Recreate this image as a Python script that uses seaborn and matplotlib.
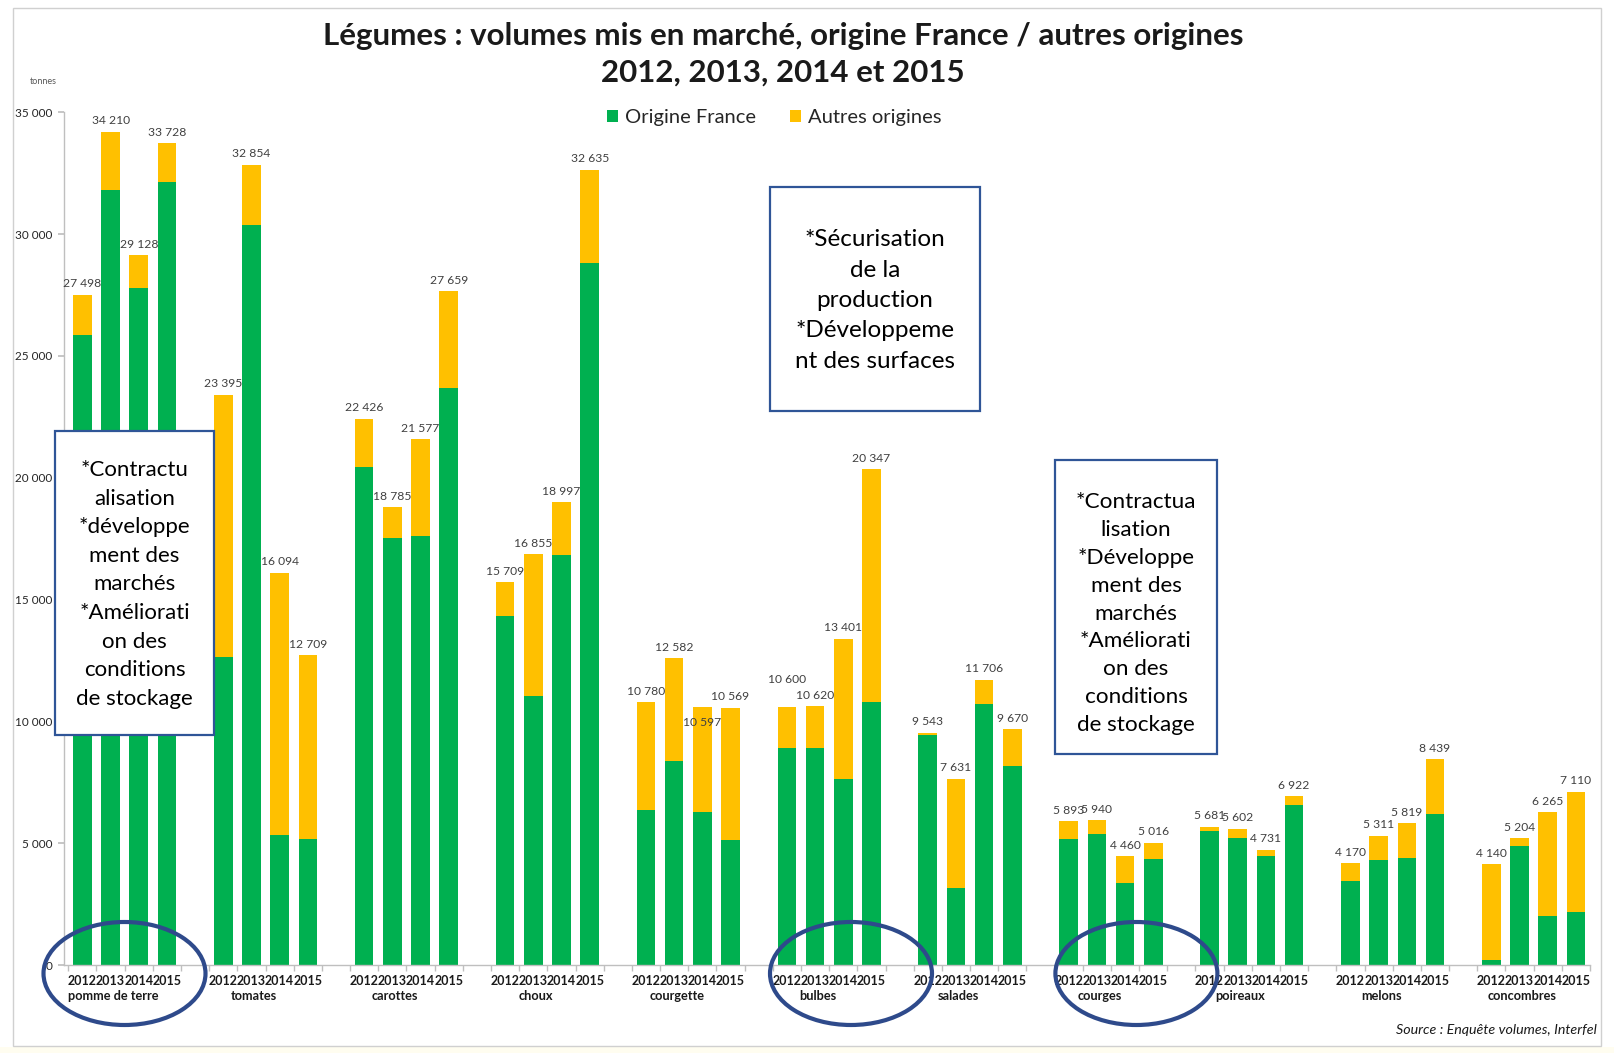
import numpy as np
import pandas as pd
import matplotlib
matplotlib.use("Agg")
import matplotlib.pyplot as plt
import seaborn as sns
from matplotlib.patches import Patch, Rectangle, Ellipse
from matplotlib.ticker import FuncFormatter

# ---------------- data ----------------
categories = ["pomme de terre", "tomates", "carottes", "choux", "courgette", "bulbes",
              "salades", "courges", "poireaux", "melons", "concombres"]
years = ["2012", "2013", "2014", "2015"]

total_2012 = [27498, 23395, 22426, 15709, 10780, 10600, 9543, 5893, 5681, 4170, 4140]
total_2013 = [34210, 32854, 18785, 16855, 12582, 10620, 7631, 5940, 5602, 5311, 5204]
total_2014 = [29128, 16094, 21577, 18997, 10597, 13401, 11706, 4460, 4731, 5819, 6265]
total_2015 = [33728, 12709, 27659, 32635, 10569, 20347, 9670, 5016, 6922, 8439, 7110]

france_2012 = [25840, 12640, 20430, 14310, 6350, 8900, 9450, 5180, 5510, 3450, 200]
france_2013 = [31810, 30370, 17510, 11030, 8390, 8900, 3150, 5380, 5220, 4310, 4890]
france_2014 = [27780, 5340, 17610, 16820, 6270, 7640, 10700, 3370, 4490, 4410, 2030]
france_2015 = [32140, 5180, 23680, 28830, 5140, 10790, 8180, 4340, 6560, 6180, 2180]

y_ticks = [0, 5000, 10000, 15000, 20000, 25000, 30000, 35000]

title_lines = ["Légumes : volumes mis en marché, origine France / autres origines",
               "2012, 2013, 2014 et 2015"]
series_names = ["Origine France", "Autres origines"]
box1_lines = ["*Contractu", "alisation", "*développe", "ment des", "marchés",
              "*Améliorati", "on des", "conditions", "de stockage"]
box2_lines = ["*Sécurisation", "de la", "production", "*Développeme", "nt des surfaces"]
box3_lines = ["*Contractua", "lisation", "*Développe", "ment des", "marchés",
              "*Améliorati", "on des", "conditions", "de stockage"]
source_text = "Source : Enquête volumes, Interfel"

# ---------------- table ----------------
totals = [total_2012, total_2013, total_2014, total_2015]
frances = [france_2012, france_2013, france_2014, france_2015]
rows = []
for g, cat in enumerate(categories):
    for j, yr in enumerate(years):
        rows.append({"cat": cat, "year": yr, "pos": 5 * g + j,
                     "total": totals[j][g], "france": frances[j][g]})
df = pd.DataFrame(rows)

GREEN = "#00B050"
YELLOW = "#FFC000"
BLUE_BOX = "#2F5597"
BLUE_ELL = "#2E4A8B"

sns.set_theme(style="white")
plt.rcParams["font.family"] = ["Lato", "DejaVu Sans"]

W, H = 1614, 1053
fig = plt.figure(figsize=(W / 100, H / 100), dpi=100)
fig.patch.set_facecolor("white")

ax = fig.add_axes([63.8 / W, (H - 965) / H, (1590 - 63.8) / W, (965 - 112.3) / H])
sns.barplot(data=df, x="pos", y="total", native_scale=True, color=YELLOW,
            saturation=1, width=0.66, errorbar=None, linewidth=0, ax=ax)
sns.barplot(data=df, x="pos", y="france", native_scale=True, color=GREEN,
            saturation=1, width=0.66, errorbar=None, linewidth=0, ax=ax)

ax.set_xlim(-0.66, 53.4)
ax.set_ylim(0, 35000)
ax.set_xlabel("")
ax.set_ylabel("")
for s in ["top", "right"]:
    ax.spines[s].set_visible(False)
for s in ["left", "bottom"]:
    ax.spines[s].set_color("#bfbfbf")
    ax.spines[s].set_linewidth(1)

ax.set_yticks(y_ticks)
ax.yaxis.set_major_formatter(FuncFormatter(lambda v, p: f"{int(v):,}".replace(",", " ")))
ax.tick_params(axis="y", length=4, color="#bfbfbf", direction="out", pad=4,
               labelsize=8.5, labelcolor="#262626", left=True)

ax.set_xticks(df["pos"].tolist())
ax.set_xticklabels(df["year"].tolist())
ax.set_xticks(np.arange(-0.5, 54, 1), minor=True)
ax.tick_params(axis="x", which="major", length=0, pad=7.5, labelsize=9, labelcolor="#1a1a1a")
ax.tick_params(axis="x", which="minor", length=4, color="#bfbfbf", direction="out", bottom=True)
for lbl in ax.get_xticklabels():
    lbl.set_fontweight("bold")

# category labels
for g, cat in enumerate(categories):
    ax.annotate(cat, xy=(5 * g + 1.1, 0), xycoords=("data", "axes fraction"),
                xytext=(0, -22.5), textcoords="offset points", ha="center", va="center",
                fontsize=9.2, fontweight="bold", color="#1a1a1a")

# value labels
nudge = {("bulbes", "2012"): 19.5, ("courgette", "2014"): -11.5}
for _, r in df.iterrows():
    off = nudge.get((r["cat"], r["year"]), 8)
    ax.annotate(f"{int(r['total']):,}".replace(",", " "), xy=(r["pos"], r["total"]),
                xytext=(0, off), textcoords="offset points", ha="center", va="center",
                fontsize=8.7, color="#404040")

# ---------------- overlay ----------------
ov = fig.add_axes([0, 0, 1, 1], zorder=10)
ov.set_xlim(0, W)
ov.set_ylim(H, 0)
ov.axis("off")
ov.patch.set_alpha(0)

# frame and bottom strip
ov.add_patch(Rectangle((0, 1047), W, 6, facecolor="#fffdf0", edgecolor="none"))
ov.add_patch(Rectangle((12.5, 8), 1588, 1038, facecolor="none", edgecolor="#d0d0d0", lw=1))

# title
ov.text(783, 36, title_lines[0], ha="center", va="center", fontsize=22.5, fontweight="bold", color="#1a1a1a")
ov.text(783, 73, title_lines[1], ha="center", va="center", fontsize=22.5, fontweight="bold", color="#1a1a1a")

# tonnes
ov.text(43, 82, "tonnes", ha="center", va="center", fontsize=6.5, color="#595959")

# legend
handles = [Patch(facecolor=GREEN, edgecolor="none"), Patch(facecolor=YELLOW, edgecolor="none")]
fig.legend(handles, series_names, loc="center", bbox_to_anchor=(774 / W, 1 - 118 / H),
           ncol=2, frameon=False, fontsize=14.5, handlelength=0.55, handleheight=0.55,
           handletextpad=0.35, columnspacing=1.7, labelcolor="#262626")

# text boxes
def text_box(x0, y0, x1, y1, lines, ys, cx, fs):
    ov.add_patch(Rectangle((x0, y0), x1 - x0, y1 - y0, facecolor="white",
                           edgecolor=BLUE_BOX, lw=1.6))
    for t, yy in zip(lines, ys):
        ov.text(cx, yy, t, ha="center", va="center", fontsize=fs, color="black")

text_box(55, 431, 214, 735, box1_lines, np.linspace(470, 699, 9), 134.5, 16)
text_box(770, 187, 980, 411, box2_lines, np.linspace(240, 361, 5), 875, 17.5)
text_box(1055, 460, 1217, 754, box3_lines, np.linspace(502, 725, 9), 1136, 16.2)

# ellipses
for cx in [124.5, 851, 1136.4]:
    ov.add_patch(Ellipse((cx, 973.5), 162, 103, facecolor="none", edgecolor=BLUE_ELL, lw=3))

# source
ov.text(1597, 1030, source_text, ha="right", va="center", fontsize=10.3,
        fontstyle="italic", color="#1a1a1a")

fig.savefig("out.png", dpi=100, facecolor="white")
